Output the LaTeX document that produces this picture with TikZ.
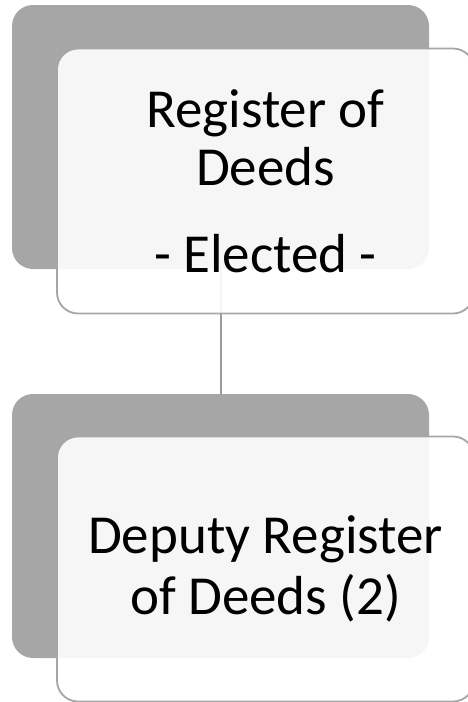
\documentclass[tikz,border=0pt]{standalone}
\usepackage{fontspec}
\setmainfont{Carlito}
\definecolor{boxgray}{HTML}{A6A6A6}
\definecolor{edgegray}{HTML}{A6A6A6}
\definecolor{linkgray}{HTML}{999999}
\begin{document}
\begin{tikzpicture}[x=1pt,y=-1pt,
  backbox/.style={rectangle, rounded corners=21pt, fill=boxgray, draw=none,
    minimum width=417pt, minimum height=264pt, inner sep=0pt},
  frontbox/.style={rectangle, rounded corners=21pt, fill=white, fill opacity=0.9,
    text opacity=1, draw=edgegray, line width=1.8pt,
    minimum width=417pt, minimum height=265pt, inner sep=0pt, align=center,
    font=\fontsize{55}{58}\selectfont},
  link/.style={draw=linkgray, line width=2pt}]
\useasboundingbox (0,0) rectangle (468,702);
% shadow panels
\node[backbox] (b1) at (220.5,137) {};
\node[backbox] (b2) at (220.5,526) {};
% connector between the two levels
\draw[link] (b1.south) -- (b2.north);
% text panels
\node[frontbox] (f1) at (265.5,181) {Register of\\Deeds\\[29pt]- Elected -};
\node[frontbox] (f2) at (265.5,569) {Deputy Register\\[3pt]of Deeds (2)};
\end{tikzpicture}
\end{document}
